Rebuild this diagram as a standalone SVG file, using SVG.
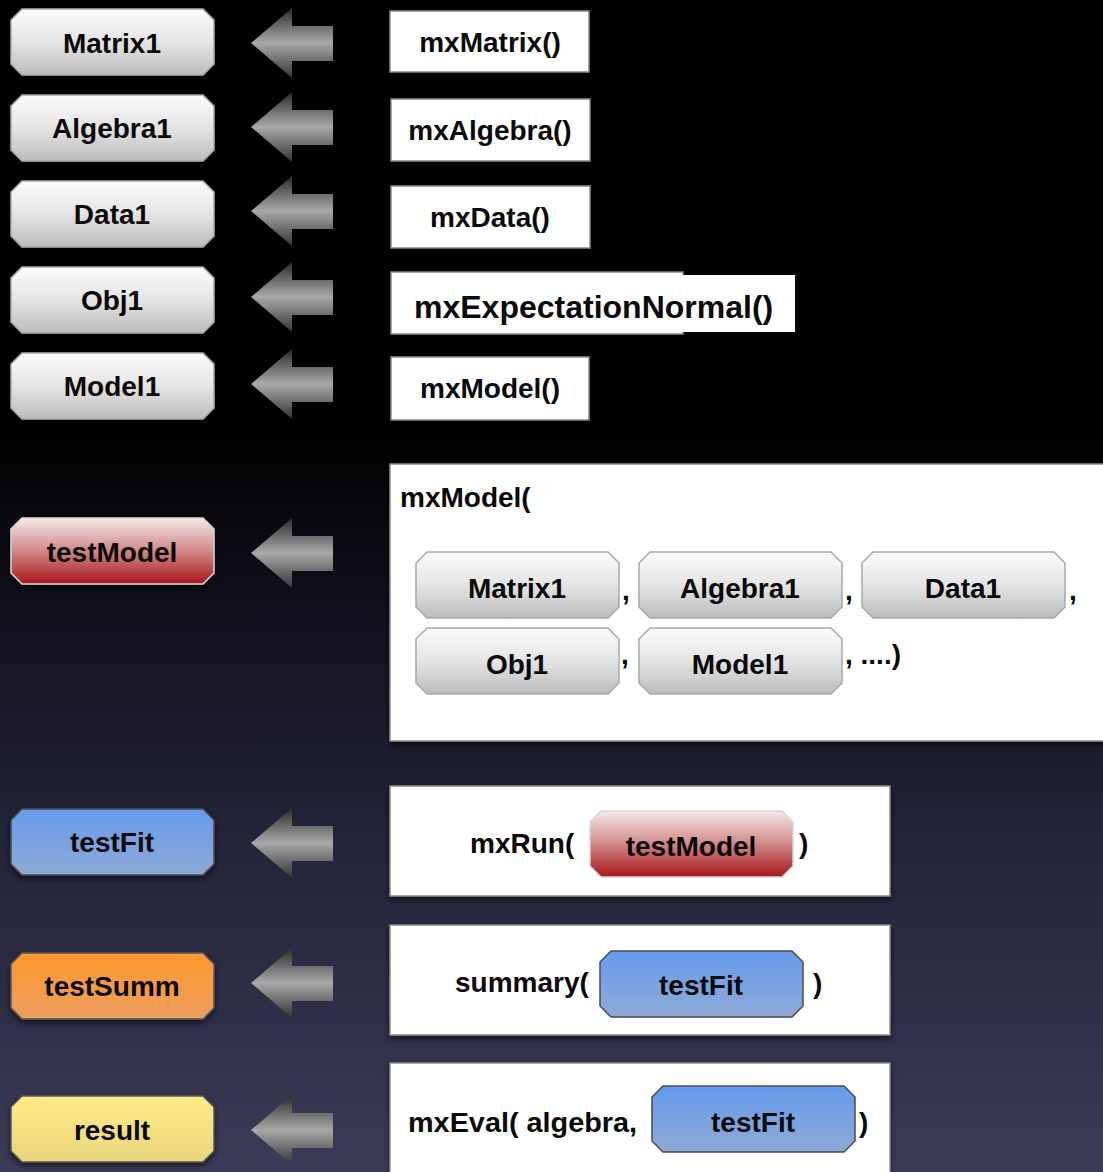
<svg xmlns="http://www.w3.org/2000/svg" xmlns:xlink="http://www.w3.org/1999/xlink" width="1103" height="1172" viewBox="0 0 1103 1172">
<style>
  .t{font-family:"Liberation Sans",Arial,Helvetica,sans-serif;font-weight:bold;font-size:28px;fill:#0a0a0a;}
  .c{text-anchor:middle;}
  .box{fill:#ffffff;stroke:#8a8a8a;stroke-width:1.5;}
  .gray{fill:url(#gGray);stroke:#a8a8a8;stroke-width:1.5;}
  .red{fill:url(#gRed);stroke:#d8d8d8;stroke-width:1.5;}
  .blue{fill:url(#gBlue);stroke:#4a4a4a;stroke-width:1.5;}
  .orange{fill:url(#gOrange);stroke:#555;stroke-width:1.5;}
  .yellow{fill:url(#gYellow);stroke:#555;stroke-width:1.5;}
  .arrow{fill:url(#gArrow);}
</style>
<defs>
  <linearGradient id="gBg" x1="0" y1="0" x2="0" y2="1">
    <stop offset="0" stop-color="#000"/>
    <stop offset="0.36" stop-color="#000"/>
    <stop offset="0.5" stop-color="#0e0e18"/>
    <stop offset="0.7" stop-color="#222238"/>
    <stop offset="0.88" stop-color="#30304a"/>
    <stop offset="1" stop-color="#3c3c58"/>
  </linearGradient>
  <linearGradient id="gGray" x1="0" y1="0" x2="0" y2="1">
    <stop offset="0" stop-color="#fbfbfb"/>
    <stop offset="0.5" stop-color="#e4e4e4"/>
    <stop offset="1" stop-color="#bcbcbc"/>
  </linearGradient>
  <linearGradient id="gRed" x1="0" y1="0" x2="0" y2="1">
    <stop offset="0" stop-color="#f7e8e8"/>
    <stop offset="0.5" stop-color="#d08888"/>
    <stop offset="1" stop-color="#a8161b"/>
  </linearGradient>
  <linearGradient id="gBlue" x1="0" y1="0" x2="0" y2="1">
    <stop offset="0" stop-color="#659bec"/>
    <stop offset="1" stop-color="#8eaad6"/>
  </linearGradient>
  <linearGradient id="gOrange" x1="0" y1="0" x2="0" y2="1">
    <stop offset="0" stop-color="#ff972e"/>
    <stop offset="1" stop-color="#eb9e5e"/>
  </linearGradient>
  <linearGradient id="gYellow" x1="0" y1="0" x2="0" y2="1">
    <stop offset="0" stop-color="#ffec88"/>
    <stop offset="1" stop-color="#e9d67c"/>
  </linearGradient>
  <linearGradient id="gArrow" x1="0" y1="0" x2="0" y2="1">
    <stop offset="0" stop-color="#2a2a2a"/>
    <stop offset="0.5" stop-color="#a9a9a9"/>
    <stop offset="1" stop-color="#333"/>
  </linearGradient>
  <filter id="sh" x="-10%" y="-20%" width="120%" height="150%">
    <feDropShadow dx="0" dy="3" stdDeviation="3" flood-color="#000" flood-opacity="0.6"/>
  </filter>
  <path id="oct" d="M11,0 H192 L203,11 V55 L192,66 H11 L0,55 V11 Z"/>
  <path id="arr" d="M251,0 L292,-35 L292,-17 L333,-17 L333,18 L292,18 L292,35 Z"/>
</defs>

<rect x="0" y="0" width="1103" height="1172" fill="url(#gBg)"/>

<g id="connectors">
  <use href="#arr" class="arrow" y="43"/>
  <use href="#arr" class="arrow" y="127"/>
  <use href="#arr" class="arrow" y="211"/>
  <use href="#arr" class="arrow" y="297"/>
  <use href="#arr" class="arrow" y="384"/>
  <use href="#arr" class="arrow" y="553"/>
  <use href="#arr" class="arrow" y="843"/>
  <use href="#arr" class="arrow" y="983"/>
  <use href="#arr" class="arrow" y="1130"/>
</g>

<!-- left result nodes -->
<g id="node-matrix1"><use href="#oct" class="gray" x="11" y="9" filter="url(#sh)"/><text class="t c" x="112" y="53">Matrix1</text></g>
<g id="node-algebra1"><use href="#oct" class="gray" x="11" y="95" filter="url(#sh)"/><text class="t c" x="112" y="138">Algebra1</text></g>
<g id="node-data1"><use href="#oct" class="gray" x="11" y="181" filter="url(#sh)"/><text class="t c" x="112" y="224">Data1</text></g>
<g id="node-obj1"><use href="#oct" class="gray" x="11" y="267" filter="url(#sh)"/><text class="t c" x="112" y="310">Obj1</text></g>
<g id="node-model1"><use href="#oct" class="gray" x="11" y="353" filter="url(#sh)"/><text class="t c" x="112" y="396">Model1</text></g>
<g id="node-testmodel"><use href="#oct" class="red" x="11" y="518" filter="url(#sh)"/><text class="t c" x="112" y="562">testModel</text></g>
<g id="node-testfit"><use href="#oct" class="blue" x="11" y="809" filter="url(#sh)"/><text class="t c" x="112" y="852">testFit</text></g>
<g id="node-testsumm"><use href="#oct" class="orange" x="11" y="953" filter="url(#sh)"/><text class="t c" x="112" y="996">testSumm</text></g>
<g id="node-result"><use href="#oct" class="yellow" x="11" y="1096" filter="url(#sh)"/><text class="t c" x="112" y="1140">result</text></g>

<!-- right function boxes -->
<g id="box-mxmatrix"><rect class="box" x="390" y="11" width="199" height="61"/><text class="t c" x="490" y="52">mxMatrix()</text></g>
<g id="box-mxalgebra"><rect class="box" x="391" y="99" width="199" height="62"/><text class="t c" x="490" y="140">mxAlgebra()</text></g>
<g id="box-mxdata"><rect class="box" x="391" y="186" width="199" height="62"/><text class="t c" x="490" y="227">mxData()</text></g>
<g id="box-mxexpectation">
  <rect x="391" y="272" width="292" height="62" fill="#fff" stroke="#8a8a8a" stroke-width="1.5"/>
  <rect x="682" y="275" width="113" height="57" fill="#fff"/>
  <text class="t" x="414" y="318" style="font-size:32px">mxExpectationNormal()</text>
</g>
<g id="box-mxmodel"><rect class="box" x="391" y="357" width="198" height="63"/><text class="t c" x="490" y="398">mxModel()</text></g>

<g id="box-mxmodel-full">
  <rect class="box" x="390" y="464" width="720" height="277" filter="url(#sh)"/>
  <text class="t" x="400" y="507">mxModel(</text>
  <g id="inner-matrix1"><use href="#oct" class="gray" x="416" y="552"/><text class="t c" x="517" y="598">Matrix1</text></g>
  <text class="t" x="622" y="600">,</text>
  <g id="inner-algebra1"><use href="#oct" class="gray" x="639" y="552"/><text class="t c" x="740" y="598">Algebra1</text></g>
  <text class="t" x="845" y="600">,</text>
  <g id="inner-data1"><use href="#oct" class="gray" x="862" y="552"/><text class="t c" x="963" y="598">Data1</text></g>
  <text class="t" x="1069" y="600">,</text>
  <g id="inner-obj1"><use href="#oct" class="gray" x="416" y="628"/><text class="t c" x="517" y="674">Obj1</text></g>
  <text class="t" x="621" y="664">,</text>
  <g id="inner-model1"><use href="#oct" class="gray" x="639" y="628"/><text class="t c" x="740" y="674">Model1</text></g>
  <text class="t" x="845" y="664">, ....)</text>
</g>

<g id="box-mxrun">
  <rect class="box" x="390" y="786" width="500" height="110" filter="url(#sh)"/>
  <text class="t" x="470" y="853">mxRun(</text>
  <g id="inner-testmodel"><use href="#oct" class="red" x="590" y="811"/><text class="t c" x="691" y="856">testModel</text></g>
  <text class="t" x="799" y="853">)</text>
</g>

<g id="box-summary">
  <rect class="box" x="390" y="925" width="500" height="110" filter="url(#sh)"/>
  <text class="t" x="455" y="992">summary(</text>
  <g id="inner-testfit-1"><use href="#oct" class="blue" x="600" y="951"/><text class="t c" x="701" y="995">testFit</text></g>
  <text class="t" x="813" y="993">)</text>
</g>

<g id="box-mxeval">
  <rect class="box" x="390" y="1063" width="500" height="120" filter="url(#sh)"/>
  <text class="t" x="408" y="1132" textLength="229" lengthAdjust="spacingAndGlyphs">mxEval( algebra,</text>
  <g id="inner-testfit-2"><use href="#oct" class="blue" x="652" y="1086"/><text class="t c" x="753" y="1132">testFit</text></g>
  <text class="t" x="859" y="1132">)</text>
</g>
</svg>
